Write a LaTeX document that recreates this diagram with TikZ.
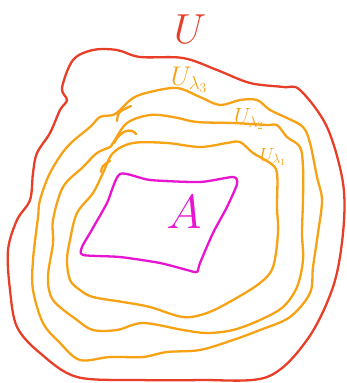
\RequirePackage{fix-cm}
\documentclass[tikz,border=0pt]{standalone}
\begin{document}
\begin{tikzpicture}[
    x=1pt, y=-1pt,
    rand/.style={line width=2.3pt, line join=round, line cap=round},
    umg/.style={rand, draw=randrot},
    ring/.style={rand, draw=ringorange},
    menge/.style={rand, draw=magentaA},
    lab/.style={inner sep=0pt}
]
\definecolor{randrot}{RGB}{232,62,40}
\definecolor{ringorange}{RGB}{246,162,20}
\definecolor{magentaA}{RGB}{232,20,210}

\useasboundingbox (0,0) rectangle (346,383);

% aeusserste Umgebung U
\draw[umg] plot[smooth cycle, tension=0.55] coordinates {
  (62,88) (73,60) (93,50) (117,50) (140,57) (183,58) (217,70) (250,83)
  (283,87) (300,90) (327,127) (343,183) (343,233) (333,287) (307,340)
  (267,377) (200,380) (140,380) (77,377) (40,353) (17,327) (10,290)
  (8,250) (17,220) (30,200) (33,173) (37,153) (50,133) (60,110) (67,100)};
\node[lab, text=randrot, font=\fontsize{42}{44}\selectfont] (labU) at (190,29) {$U$};

% Umgebungen U_lambda
\draw[ring] plot[smooth cycle, tension=0.55] coordinates {
  (150,92) (177,88) (200,97) (220,105) (240,100) (257,100) (270,110)
  (287,118) (303,127) (310,143) (317,177) (322,200) (318,233) (313,267)
  (310,293) (290,317) (260,330) (233,340) (200,350) (167,352) (143,357)
  (110,357) (80,360) (60,343) (43,323) (33,290) (33,260) (38,217)
  (40,200) (50,173) (67,147) (90,127) (100,117) (113,115) (120,110) (133,98)};
\draw[ring] plot[smooth cycle, tension=0.55] coordinates {
  (127,123) (150,115) (173,117) (197,122) (233,123) (267,125) (277,125)
  (287,137) (300,147) (303,167) (303,200) (302,233) (303,260) (297,287)
  (283,307) (260,320) (233,330) (207,333) (183,330) (143,323) (117,330)
  (93,330) (77,320) (53,300) (48,277) (53,243) (53,220) (63,187)
  (83,167) (97,153) (110,147) (113,143)};
\draw[ring] plot[smooth cycle, tension=0.55] coordinates {
  (113,153) (133,143) (167,143) (200,147) (227,143) (240,142) (253,153)
  (270,163) (277,173) (277,207) (278,233) (273,267) (260,283) (233,300)
  (207,313) (183,317) (150,307) (123,302) (93,297) (80,290) (70,280)
  (67,260) (70,240) (77,213) (93,193) (103,173)};

% kleine Haken
\draw[ring] (117,121) .. controls (118,112) .. (131,106);
\draw[ring] (114,143) .. controls (120,131) and (131,127) .. (136,134);
\draw[ring] (101,172) .. controls (102,166) .. (110,161);

\node[lab, text=ringorange, font=\fontsize{27}{29}\selectfont] (lab3) at (189,80) {$U_{\lambda_3}$};
\node[lab, text=ringorange, font=\fontsize{22}{24}\selectfont] (lab2) at (249,119) {$U_{\lambda_2}$};
\node[lab, text=ringorange, font=\fontsize{19}{21}\selectfont] (lab1) at (273,157) {$U_{\lambda_1}$};

% Menge A
\draw[menge] plot[smooth cycle, tension=0.4] coordinates {
  (120,174) (150,180) (200,182) (233,177) (237,184) (227,207) (213,233)
  (200,263) (197,272) (187,270) (160,263) (120,257) (83,255) (82,247)
  (90,233) (107,203)};
\node[lab, text=magentaA, font=\fontsize{48}{50}\selectfont] (labA) at (184,212) {$A$};

\end{tikzpicture}
\end{document}
